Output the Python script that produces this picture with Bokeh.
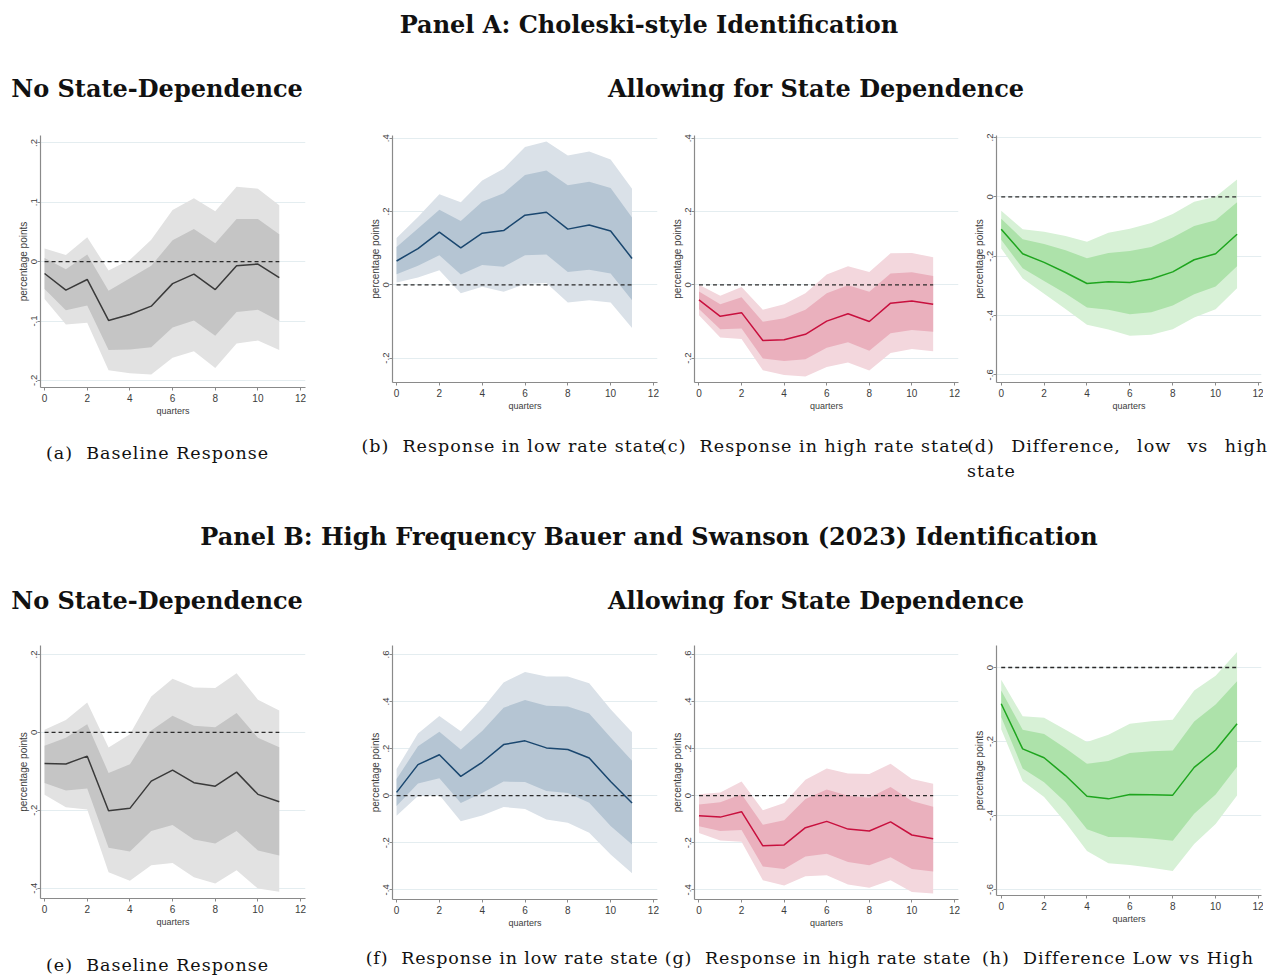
from bokeh.plotting import figure
from bokeh.models import Div, Range1d, FixedTicker, CustomJSTickFormatter
from bokeh.layouts import column, row
from bokeh.embed import file_html
from bokeh.resources import INLINE

quarters = list(range(12))
x_ticks = [0, 2, 4, 6, 8, 10, 12]

# ---------------- Panel A ----------------
a_irf  = [-0.020, -0.048, -0.030, -0.099, -0.089, -0.075, -0.037, -0.021, -0.047, -0.007, -0.004, -0.027]
a_hi68 = [0.006, -0.013, 0.012, -0.049, -0.028, -0.007, 0.036, 0.055, 0.031, 0.072, 0.072, 0.046]
a_lo68 = [-0.046, -0.082, -0.074, -0.149, -0.148, -0.144, -0.111, -0.099, -0.125, -0.085, -0.081, -0.100]
a_hi90 = [0.022, 0.011, 0.041, -0.015, 0.003, 0.037, 0.087, 0.107, 0.085, 0.126, 0.123, 0.095]
a_lo90 = [-0.063, -0.106, -0.103, -0.183, -0.188, -0.190, -0.162, -0.151, -0.179, -0.138, -0.133, -0.149]

b_irf  = [0.065, 0.099, 0.144, 0.101, 0.141, 0.148, 0.190, 0.198, 0.152, 0.163, 0.147, 0.072]
b_hi68 = [0.103, 0.154, 0.205, 0.174, 0.227, 0.250, 0.300, 0.312, 0.272, 0.281, 0.264, 0.184]
b_lo68 = [0.029, 0.052, 0.081, 0.028, 0.054, 0.049, 0.081, 0.083, 0.035, 0.041, 0.031, -0.042]
b_hi90 = [0.128, 0.185, 0.247, 0.225, 0.285, 0.317, 0.376, 0.391, 0.353, 0.364, 0.342, 0.262]
b_lo90 = [0.006, 0.020, 0.040, -0.023, -0.005, -0.019, 0.002, 0.005, -0.048, -0.042, -0.048, -0.118]

c_irf  = [-0.041, -0.086, -0.076, -0.152, -0.150, -0.135, -0.099, -0.079, -0.100, -0.050, -0.044, -0.053]
c_hi68 = [-0.018, -0.053, -0.034, -0.101, -0.091, -0.068, -0.023, -0.001, -0.019, 0.031, 0.034, 0.024]
c_lo68 = [-0.066, -0.121, -0.119, -0.201, -0.208, -0.203, -0.172, -0.157, -0.180, -0.132, -0.123, -0.128]
c_hi90 = [0.000, -0.030, -0.006, -0.068, -0.053, -0.023, 0.028, 0.051, 0.035, 0.086, 0.087, 0.075]
c_lo90 = [-0.083, -0.144, -0.148, -0.233, -0.246, -0.250, -0.224, -0.212, -0.234, -0.186, -0.175, -0.181]

d_irf  = [-0.109, -0.192, -0.221, -0.255, -0.292, -0.286, -0.289, -0.277, -0.253, -0.212, -0.192, -0.126]
d_hi68 = [-0.074, -0.143, -0.159, -0.180, -0.207, -0.189, -0.183, -0.169, -0.137, -0.098, -0.079, -0.018]
d_lo68 = [-0.145, -0.241, -0.284, -0.326, -0.373, -0.381, -0.396, -0.389, -0.366, -0.328, -0.302, -0.234]
d_hi90 = [-0.047, -0.109, -0.118, -0.132, -0.151, -0.121, -0.108, -0.088, -0.058, -0.017, 0.000, 0.058]
d_lo90 = [-0.174, -0.275, -0.327, -0.378, -0.431, -0.447, -0.468, -0.465, -0.446, -0.407, -0.379, -0.308]

# ---------------- Panel B ----------------
e_irf  = [-0.080, -0.081, -0.061, -0.201, -0.195, -0.125, -0.097, -0.129, -0.138, -0.102, -0.159, -0.178]
e_hi68 = [-0.034, -0.014, 0.021, -0.104, -0.082, 0.005, 0.043, 0.017, 0.013, 0.050, -0.014, -0.038]
e_lo68 = [-0.130, -0.149, -0.144, -0.296, -0.306, -0.253, -0.238, -0.275, -0.285, -0.253, -0.303, -0.316]
e_hi90 = [0.007, 0.032, 0.077, -0.039, -0.005, 0.092, 0.138, 0.115, 0.114, 0.152, 0.084, 0.056]
e_lo90 = [-0.160, -0.192, -0.198, -0.359, -0.381, -0.341, -0.335, -0.372, -0.388, -0.354, -0.401, -0.409]

f_irf  = [0.014, 0.132, 0.174, 0.082, 0.142, 0.217, 0.233, 0.203, 0.196, 0.160, 0.060, -0.031]
f_hi68 = [0.071, 0.210, 0.272, 0.196, 0.275, 0.374, 0.406, 0.382, 0.379, 0.349, 0.247, 0.148]
f_lo68 = [-0.044, 0.052, 0.074, -0.031, 0.011, 0.060, 0.058, 0.020, 0.011, -0.030, -0.129, -0.207]
f_hi90 = [0.113, 0.264, 0.339, 0.274, 0.369, 0.481, 0.525, 0.506, 0.506, 0.478, 0.367, 0.270]
f_lo90 = [-0.085, -0.001, 0.003, -0.109, -0.084, -0.048, -0.057, -0.101, -0.115, -0.157, -0.250, -0.329]

g_irf  = [-0.085, -0.091, -0.068, -0.213, -0.209, -0.136, -0.109, -0.142, -0.150, -0.111, -0.167, -0.183]
g_hi68 = [-0.037, -0.028, 0.006, -0.123, -0.104, -0.014, 0.026, 0.000, -0.009, 0.037, -0.023, -0.047]
g_lo68 = [-0.130, -0.150, -0.146, -0.301, -0.311, -0.258, -0.247, -0.282, -0.295, -0.261, -0.311, -0.322]
g_hi90 = [0.006, 0.014, 0.060, -0.062, -0.031, 0.068, 0.115, 0.094, 0.092, 0.136, 0.071, 0.051]
g_lo90 = [-0.159, -0.190, -0.196, -0.359, -0.382, -0.342, -0.338, -0.377, -0.391, -0.359, -0.409, -0.416]

h_irf  = [-0.098, -0.220, -0.244, -0.292, -0.348, -0.355, -0.343, -0.344, -0.345, -0.270, -0.223, -0.152]
h_hi68 = [-0.062, -0.168, -0.180, -0.218, -0.260, -0.253, -0.231, -0.226, -0.224, -0.146, -0.100, -0.037]
h_lo68 = [-0.134, -0.273, -0.310, -0.364, -0.437, -0.458, -0.459, -0.462, -0.468, -0.395, -0.343, -0.268]
h_hi90 = [-0.033, -0.132, -0.136, -0.168, -0.201, -0.182, -0.152, -0.145, -0.141, -0.062, -0.022, 0.042]
h_lo90 = [-0.167, -0.307, -0.350, -0.419, -0.496, -0.529, -0.534, -0.541, -0.550, -0.477, -0.423, -0.346]

# y tick values per chart
a_yticks = [-0.2, -0.1, 0, 0.1, 0.2]
bc_yticks = [-0.2, 0, 0.2, 0.4]
d_yticks = [-0.6, -0.4, -0.2, 0, 0.2]
e_yticks = [-0.4, -0.2, 0, 0.2]
fg_yticks = [-0.4, -0.2, 0, 0.2, 0.4, 0.6]
h_yticks = [-0.6, -0.4, -0.2, 0]

title_a = "Panel A: Choleski-style Identification"
title_b = "Panel B: High Frequency Bauer and Swanson (2023) Identification"
head_left = "No State-Dependence"
head_right = "Allowing for State Dependence"
cap_a = "(a)&nbsp; Baseline Response"
cap_b = "(b)&nbsp; Response in low rate state"
cap_c = "(c)&nbsp; Response in high rate state"
cap_d1 = "(d) Difference, low vs high"
cap_d2 = "state"
cap_e = "(e)&nbsp; Baseline Response"
cap_f = "(f)&nbsp; Response in low rate state"
cap_g = "(g)&nbsp; Response in high rate state"
cap_h = "(h)&nbsp; Difference Low vs High"

GRAY = ("#e2e2e2", "#c5c5c5", "#3a3a3a")
BLUE = ("#dae1e8", "#b5c5d3", "#1a476f")
RED = ("#f3d7dd", "#eab0bd", "#c8103e")
GREEN = ("#d7f1d6", "#ade2aa", "#1ea51e")

fmt = CustomJSTickFormatter(code="""
const v = Math.round(tick*10)/10;
if (v === 0) return "0";
return v.toString().replace("0.", ".");
""")

AX_COL = "#8a8a8a"
TXT_COL = "#3c3c3c"
SANS = "Liberation Sans"


def make_fig(series, cols, xr, yr, yticks, bl, br, bt, bb, fw, fh):
    irf, lo68, hi68, lo90, hi90 = series
    p = figure(frame_width=fw, frame_height=fh,
               x_range=Range1d(*xr), y_range=Range1d(*yr),
               output_backend="svg", toolbar_location=None, tools="",
               min_border_left=bl, min_border_right=br,
               min_border_top=bt, min_border_bottom=bb, margin=0)
    p.outline_line_color = None
    p.background_fill_color = "white"
    p.border_fill_color = "white"
    p.xgrid.visible = False
    p.ygrid.ticker = FixedTicker(ticks=yticks)
    p.ygrid.grid_line_color = "#e4edf0"
    p.ygrid.grid_line_width = 1

    p.varea(x=quarters, y1=lo90, y2=hi90, fill_color=cols[0])
    p.varea(x=quarters, y1=lo68, y2=hi68, fill_color=cols[1])
    p.line(x=[quarters[0], quarters[-1]], y=[0, 0], line_color="#2a2a2a",
           line_width=1.3, line_dash="4 3")
    p.line(x=quarters, y=irf, line_color=cols[2], line_width=1.5)

    p.xaxis.ticker = FixedTicker(ticks=x_ticks)
    p.yaxis.ticker = FixedTicker(ticks=yticks)
    p.yaxis.formatter = fmt
    p.yaxis.major_label_orientation = "vertical"
    p.xaxis.axis_label = "quarters"
    p.yaxis.axis_label = "percentage points"
    for ax in (p.xaxis[0], p.yaxis[0]):
        ax.axis_line_color = AX_COL
        ax.axis_line_width = 1.2
        ax.major_tick_line_color = AX_COL
        ax.major_tick_in = 0
        ax.major_tick_out = 3
        ax.minor_tick_line_color = None
        ax.major_label_text_font = SANS
        ax.major_label_text_color = TXT_COL
        ax.axis_label_text_font = SANS
        ax.axis_label_text_font_style = "normal"
        ax.axis_label_text_color = TXT_COL
    p.xaxis.major_label_text_font_size = "10px"
    p.xaxis.major_label_standoff = 3
    p.xaxis.axis_label_standoff = 1
    p.xaxis.axis_label_text_font_size = "9px"
    p.yaxis.major_label_text_font_size = "9.5px"
    p.yaxis.major_label_standoff = 0
    p.yaxis.axis_label_standoff = 0
    p.yaxis.axis_label_text_font_size = "10px"
    return p


SERIF = "'DejaVu Serif', serif"
W = 1271


def txt(s, x, y, size, bold=False, anchor="center", ls=0.0):
    tr = "translate(-50%,-50%)" if anchor == "center" else "translate(0,-50%)"
    w = "bold" if bold else "normal"
    return (f'<div style="position:absolute;left:{x}px;top:{y}px;transform:{tr};'
            f'white-space:nowrap;font-family:{SERIF};font-size:{size}px;font-weight:{w};'
            f'letter-spacing:{ls}px;color:#111;line-height:1.2;">{s}</div>')


def just(s, x, y, w, size, ls=0.0):
    return (f'<div style="position:absolute;left:{x}px;top:{y}px;width:{w}px;transform:translate(0,-50%);'
            f'white-space:nowrap;font-family:{SERIF};font-size:{size}px;color:#111;line-height:1.2;'
            f'letter-spacing:{ls}px;text-align:justify;text-align-last:justify;">{s}</div>')


def box(h, inner):
    return Div(text=f'<div style="position:relative;width:{W}px;height:{h}px;overflow:visible;">{inner}</div>',
               width=W, height=h, margin=0)


TS = 24    # title size
CS = 17.5  # caption size
LS = 1.0   # caption letter spacing

row1 = box(120, txt(title_a, 649, 25, TS, True) + txt(head_left, 157, 89, TS, True)
           + txt(head_right, 816, 89, TS, True))

fa = make_fig((a_irf, a_lo68, a_hi68, a_lo90, a_hi90), GRAY, (-0.19, 12.23), (-0.212, 0.2125), a_yticks, 40, 50, 15, 50, 265, 252)
fb = make_fig((b_irf, b_lo68, b_hi68, b_lo90, b_hi90), BLUE, (-0.19, 12.19), (-0.2666, 0.4075), bc_yticks, 37, 8, 13, 57, 265, 247)
fc = make_fig((c_irf, c_lo68, c_hi68, c_lo90, c_hi90), RED, (-0.21, 12.19), (-0.2666, 0.4075), bc_yticks, 29, 7, 13, 57, 264, 247)
fd = make_fig((d_irf, d_lo68, d_hi68, d_lo90, d_hi90), GREEN, (-0.22, 12.14), (-0.6258, 0.2067), d_yticks, 31, 2, 13, 57, 265, 247)
row2 = row(fa, fb, fc, fd, spacing=0)

# row 2 spans image y 120..437
row3 = box(195, txt(cap_a, 157.5, 16, CS, ls=LS) + txt(cap_b, 512.5, 9, CS, ls=LS)
           + txt(cap_c, 815, 9, CS, ls=LS)
           + just(cap_d1, 967, 9, 301, CS, ls=LS) + txt(cap_d2, 967, 34, CS, anchor="left", ls=LS)
           + txt(title_b, 649, 100, TS, True) + txt(head_left, 157, 164, TS, True)
           + txt(head_right, 816, 164, TS, True))

fe = make_fig((e_irf, e_lo68, e_hi68, e_lo90, e_hi90), GRAY, (-0.19, 12.23), (-0.4264, 0.2231), e_yticks, 40, 50, 13, 50, 265, 253)
ff = make_fig((f_irf, f_lo68, f_hi68, f_lo90, f_hi90), BLUE, (-0.19, 12.19), (-0.441, 0.638), fg_yticks, 37, 8, 6, 56, 265, 254)
fgp = make_fig((g_irf, g_lo68, g_hi68, g_lo90, g_hi90), RED, (-0.21, 12.19), (-0.441, 0.638), fg_yticks, 29, 7, 6, 56, 264, 254)
fh = make_fig((h_irf, h_lo68, h_hi68, h_lo90, h_hi90), GREEN, (-0.22, 12.14), (-0.6162, 0.0595), h_yticks, 31, 2, 10, 56, 265, 250)
row4 = row(fe, ff, fgp, fh, spacing=0)

# row 4 spans image y 632..948
row5 = box(28, txt(cap_e, 157.5, 17, CS, ls=LS) + txt(cap_f, 512, 10, CS, ls=0.85)
           + txt(cap_g, 818, 10, CS, ls=0.85) + txt(cap_h, 1118, 10, CS, ls=LS))

layout = column(row1, row2, row3, row4, row5, spacing=0)

with open("out.html", "w") as fh_out:
    fh_out.write(file_html(layout, INLINE))
